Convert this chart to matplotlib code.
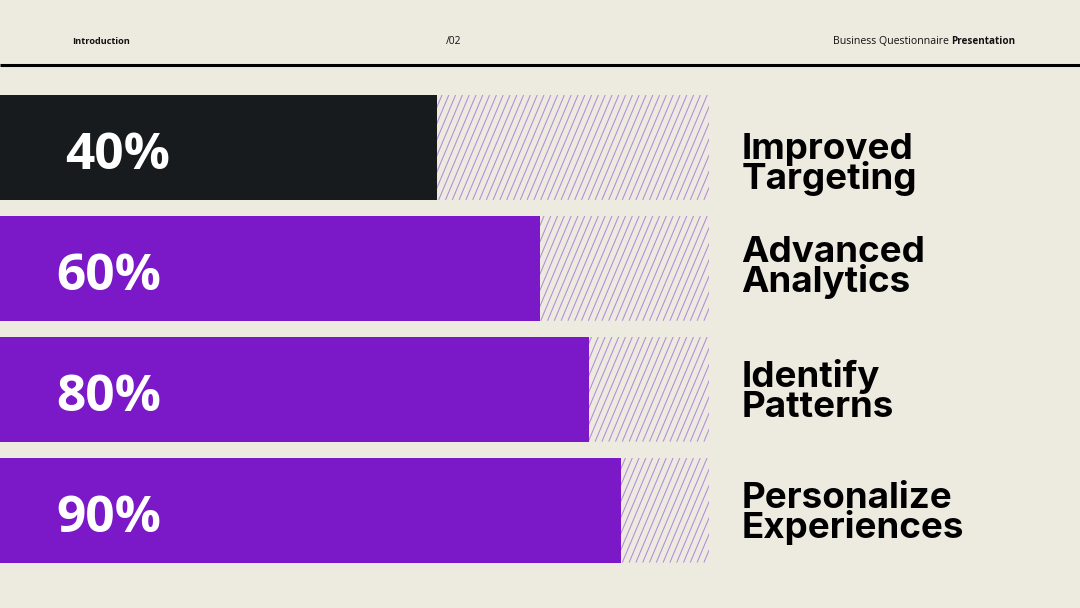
import matplotlib.pyplot as plt
from matplotlib.collections import LineCollection
import numpy as np

# Data
labels_top = ["Improved", "Advanced", "Identify", "Personalize"]
labels_bottom = ["Targeting", "Analytics", "Patterns", "Experiences"]
pct_text = ["40%", "60%", "80%", "90%"]
fill = [61.6, 76.2, 83.1, 87.6]  # visible bar length, % of track
bar_colors = ["#181b1e", "#7b19c8", "#7b19c8", "#7b19c8"]

BG = "#edeae0"
HATCH = "#b38bd8"

W, H = 1080, 608
fig = plt.figure(figsize=(W / 100, H / 100), dpi=100, facecolor=BG)

# background / header axes in pixel units
ax_bg = fig.add_axes([0, 0, 1, 1])
ax_bg.set_xlim(0, W)
ax_bg.set_ylim(H, 0)
ax_bg.axis("off")
ax_bg.plot([0, W], [65, 65], color="black", lw=2.2, solid_capstyle="butt")
hdr = dict(family=["Open Sans", "DejaVu Sans"], va="center", color="#111111")
ax_bg.text(72, 42, "Introduction", fontweight="bold", fontsize=6.6, **hdr)
ax_bg.text(446, 42, "/02", fontsize=7.4, **hdr)
t_biz = ax_bg.text(833, 42, "Business Questionnaire ", fontsize=7.6, **hdr)
fig.canvas.draw()
bb = t_biz.get_window_extent().transformed(ax_bg.transData.inverted())
ax_bg.text(bb.x1, 42, "Presentation", fontweight="bold", fontsize=7.1, **hdr)

# bar axes: x = percent of track, y = row index
top_px, bot_px = 87.0, 570.5
ax = fig.add_axes([0, 1 - bot_px / H, 709 / W, (bot_px - top_px) / H])
ax.set_xlim(0, 100)
ax.set_ylim(3.5, -0.5)
ax.axis("off")
ax.patch.set_alpha(0)

n = len(fill)
y = np.arange(n)
bh = 105 / 121

tracks = ax.barh(y, [100] * n, height=bh, color=BG, zorder=1)

# diagonal hatch lines, clipped to each track
px_x = 709 / 100  # pixels per x unit
for rect in tracks:
    y0 = rect.get_y()
    y1 = y0 + rect.get_height()
    dx = 0.42 * 105 / px_x
    xs = np.arange(-dx, 100 + dx, 6.8 / px_x)
    segs = [[(x, y1), (x + dx, y0)] for x in xs]
    lc = LineCollection(segs, colors=HATCH, linewidths=0.75, zorder=2)
    ax.add_collection(lc)
    lc.set_clip_path(rect)

ax.barh(y, fill, height=bh, color=bar_colors, zorder=3)

pct_x = [9.2, 8.0, 8.0, 8.0]
for i in range(n):
    ax.text(pct_x[i], i + 22 / 121, pct_text[i], color="white", fontsize=37,
            fontweight="bold", family=["Open Sans", "DejaVu Sans"],
            va="baseline", ha="left", zorder=4)

label_shift = [14, -4, 0, 0]
lab = dict(fontsize=26.5, fontweight="bold", family=["Inter", "DejaVu Sans"],
           color="black", va="baseline", ha="left", clip_on=False)
for i in range(n):
    c = i + label_shift[i] / 121
    ax.text(104.6, c - 2 / 121, labels_top[i], **lab)
    ax.text(104.6, c + 28 / 121, labels_bottom[i], **lab)

fig.savefig("out.png", dpi=100, facecolor=BG)
